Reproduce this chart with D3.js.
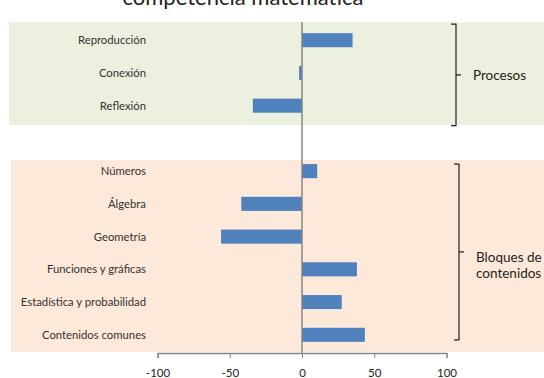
<!DOCTYPE html>
<html><head><meta charset="utf-8">
<script src="https://cdn.jsdelivr.net/npm/d3@7/dist/d3.min.js"></script>
<style>body{margin:0;background:#fff;}svg{display:block;}</style>
</head><body>
<svg id="c" width="544" height="378"></svg>
<script>
const categories = ["Reproducción","Conexión","Reflexión","","Números","Álgebra","Geometría","Funciones y gráficas","Estadística y probabilidad","Contenidos comunes"];
const values = [35, -2, -34, null, 10.5, -42, -56, 38, 27.5, 43.5];
const tickValues = [-100, -50, 0, 50, 100];
const groupNames = [["Procesos"], ["Bloques de", "contenidos"]];
const groupFrom = ["Reproducción", "Números"];
const groupTo = ["Reflexión", "Contenidos comunes"];
const title = "competencia matemática";

const svg = d3.select("#c");
const font = "Lato, 'Open Sans', sans-serif";
const x = d3.scaleLinear().domain([-100, 100]).range([157.5, 446.5]);
const y = d3.scaleBand().domain(categories.map((c,i)=>i)).range([24, 351]).paddingInner(0.57).paddingOuter(0.28);

// panels
const panelStyle = [
  {x: 9, y: 22, w: 535, h: 103, fill: "#EBF0DF"},
  {x: 11, y: 160, w: 533, h: 192, fill: "#FDE9D9"}
];
panelStyle.forEach(p => svg.append("rect").attr("x", p.x).attr("y", p.y).attr("width", p.w).attr("height", p.h).attr("fill", p.fill));

// title
svg.append("text").attr("x", 243).attr("y", 5).attr("text-anchor", "middle")
  .attr("font-family", font).attr("font-size", 22).attr("fill", "#222").text(title);

// bars
svg.selectAll("rect.bar").data(values.map((v,i)=>({v,i})).filter(d=>d.v!==null)).join("rect")
  .attr("class","bar")
  .attr("x", d => x(Math.min(0, d.v)))
  .attr("width", d => Math.abs(x(d.v) - x(0)))
  .attr("y", d => y(d.i))
  .attr("height", y.bandwidth())
  .attr("fill", "#4F81BD");

// category labels
svg.selectAll("text.cat").data(categories).join("text")
  .attr("class","cat")
  .attr("x", 146).attr("y", (d,i)=> y(i) + y.bandwidth()/2).attr("dy", "0.35em")
  .attr("text-anchor","end").attr("font-family", font).attr("font-size", 11.3).attr("fill", "#333")
  .text(d=>d);

// vertical zero axis
svg.append("line").attr("x1", x(0)).attr("x2", x(0)).attr("y1", 22).attr("y2", 353)
  .attr("stroke", "#868686").attr("stroke-width", 1.5);

// x axis
const ax = svg.append("g").attr("transform", "translate(0,353)")
  .call(d3.axisBottom(x).tickValues(tickValues).tickSize(5).tickPadding(11).tickFormat(d => String(d)));
ax.select(".domain").attr("stroke", "#868686").attr("stroke-width", 1.3);
ax.selectAll(".tick line").attr("stroke", "#868686");
ax.selectAll("text").attr("font-family", font).attr("font-size", 11.5).attr("fill", "#222");

// braces
const braceGeom = [
  {bx: 456, topOff: -9, botOff: 13, textDy: 0},
  {bx: 459, topOff: 0, botOff: -2, textDy: 13}
];
groupNames.forEach((name, gi) => {
  const g = braceGeom[gi];
  const i0 = categories.indexOf(groupFrom[gi]), i1 = categories.indexOf(groupTo[gi]);
  const top = y(i0) + g.topOff;
  const bot = y(i1) + y.bandwidth() + g.botOff;
  const mid = (top + bot) / 2;
  const p = d3.path();
  p.moveTo(g.bx - 5, top); p.lineTo(g.bx, top); p.lineTo(g.bx, bot); p.lineTo(g.bx - 5, bot);
  p.moveTo(g.bx, mid); p.lineTo(g.bx + 5, mid);
  svg.append("path").attr("d", p.toString()).attr("fill", "none").attr("stroke", "#222").attr("stroke-width", 1.2);
  const t = svg.append("text").attr("font-family", font).attr("font-size", 13.5).attr("fill", "#222");
  const n = name.length;
  name.forEach((s, k) => {
    t.append("tspan").attr("x", g.bx + 17).attr("y", mid + g.textDy + (k - (n-1)/2) * 16).attr("dy", "0.35em").text(s);
  });
});
</script>
</body></html>
